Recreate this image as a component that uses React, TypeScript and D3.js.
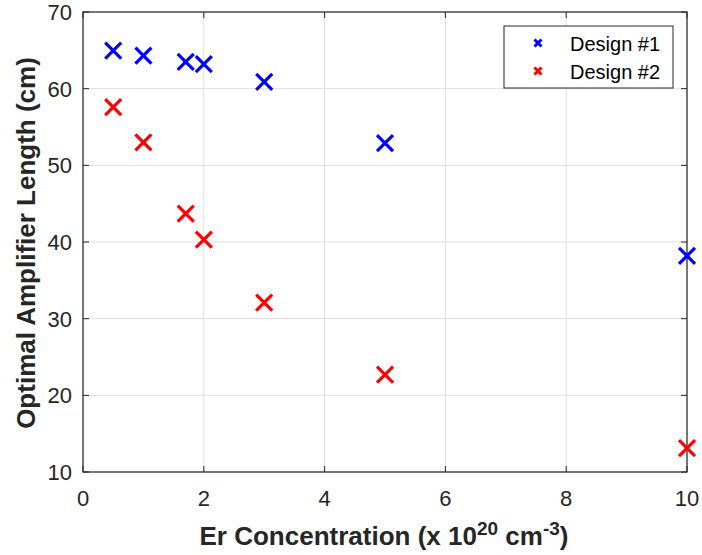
import React from "react";
import * as d3 from "d3";

const concentration = [0.5, 1, 1.7, 2, 3, 5, 10];
const design1 = [64.95, 64.3, 63.5, 63.2, 60.9, 52.9, 38.2];
const design2 = [57.6, 53.0, 43.7, 40.3, 32.1, 22.7, 13.1];
const xTicks = [0, 2, 4, 6, 8, 10];
const yTicks = [10, 20, 30, 40, 50, 60, 70];
const seriesNames = ["Design #1", "Design #2"];
const seriesColors = ["#0000ff", "#ff0000"];

const W = 702, H = 555;
const L = 83, R = 687, T = 12, B = 472;
const FONT = "Arial, 'Liberation Sans', Helvetica, sans-serif";

function Cross({ cx, cy, r, color, sw }: { cx: number; cy: number; r: number; color: string; sw: number }) {
  return (
    <g stroke={color} strokeWidth={sw} strokeLinecap="butt">
      <line x1={cx - r} y1={cy - r} x2={cx + r} y2={cy + r} />
      <line x1={cx - r} y1={cy + r} x2={cx + r} y2={cy - r} />
    </g>
  );
}

export default function App() {
  const x = d3.scaleLinear().domain([0, 10]).range([L, R]);
  const y = d3.scaleLinear().domain([10, 70]).range([B, T]);
  const series = [design1, design2];
  const axisColor = "#262626";
  return (
    <svg width={W} height={H} style={{ position: "absolute", left: 0, top: 0, background: "#fff" }} fontFamily={FONT}>
      <rect x={0} y={0} width={W} height={H} fill="#fff" />
      {/* grid */}
      {xTicks.map((t) => (
        <line key={"gx" + t} x1={x(t)} x2={x(t)} y1={T} y2={B} stroke="#dfdfdf" strokeWidth={1} />
      ))}
      {yTicks.map((t) => (
        <line key={"gy" + t} x1={L} x2={R} y1={y(t)} y2={y(t)} stroke="#dfdfdf" strokeWidth={1} />
      ))}
      {/* ticks inside */}
      {xTicks.map((t) => (
        <g key={"tx" + t} stroke={axisColor} strokeWidth={1}>
          <line x1={x(t)} x2={x(t)} y1={B} y2={B - 6} />
          <line x1={x(t)} x2={x(t)} y1={T} y2={T + 6} />
        </g>
      ))}
      {yTicks.map((t) => (
        <g key={"ty" + t} stroke={axisColor} strokeWidth={1}>
          <line x1={L} x2={L + 6} y1={y(t)} y2={y(t)} />
          <line x1={R} x2={R - 6} y1={y(t)} y2={y(t)} />
        </g>
      ))}
      <rect x={L} y={T} width={R - L} height={B - T} fill="none" stroke={axisColor} strokeWidth={1.2} />
      {/* tick labels */}
      {xTicks.map((t) => (
        <text key={"lx" + t} x={x(t)} y={506} textAnchor="middle" fontSize={22} fill={axisColor}>
          {t}
        </text>
      ))}
      {yTicks.map((t) => (
        <text key={"ly" + t} x={72} y={y(t) + 8} textAnchor="end" fontSize={22} fill={axisColor}>
          {t}
        </text>
      ))}
      {/* axis titles */}
      <text x={384} y={545} textAnchor="middle" fontSize={26} fontWeight="bold" fill={axisColor}>
        Er Concentration (x 10
        <tspan dy={-10} fontSize={19}>20</tspan>
        <tspan dy={10}> cm</tspan>
        <tspan dy={-10} fontSize={19}>-3</tspan>
        <tspan dy={10}>)</tspan>
      </text>
      <text
        transform={`translate(35, 243) rotate(-90)`}
        textAnchor="middle"
        fontSize={26}
        fontWeight="bold"
        fill={axisColor}
      >
        Optimal Amplifier Length (cm)
      </text>
      {/* data */}
      {series.map((s, si) =>
        s.map((v, i) => (
          <Cross key={si + "-" + i} cx={x(concentration[i])} cy={y(v)} r={8} color={seriesColors[si]} sw={3.2} />
        ))
      )}
      {/* legend */}
      <rect x={504} y={26} width={169} height={62} fill="#fff" stroke={axisColor} strokeWidth={1} />
      {seriesNames.map((n, i) => (
        <g key={n}>
          <Cross cx={538} cy={43 + i * 28} r={3.5} color={seriesColors[i]} sw={3} />
          <text x={570} y={51 + i * 28} fontSize={20} fill="#000">
            {n}
          </text>
        </g>
      ))}
    </svg>
  );
}
